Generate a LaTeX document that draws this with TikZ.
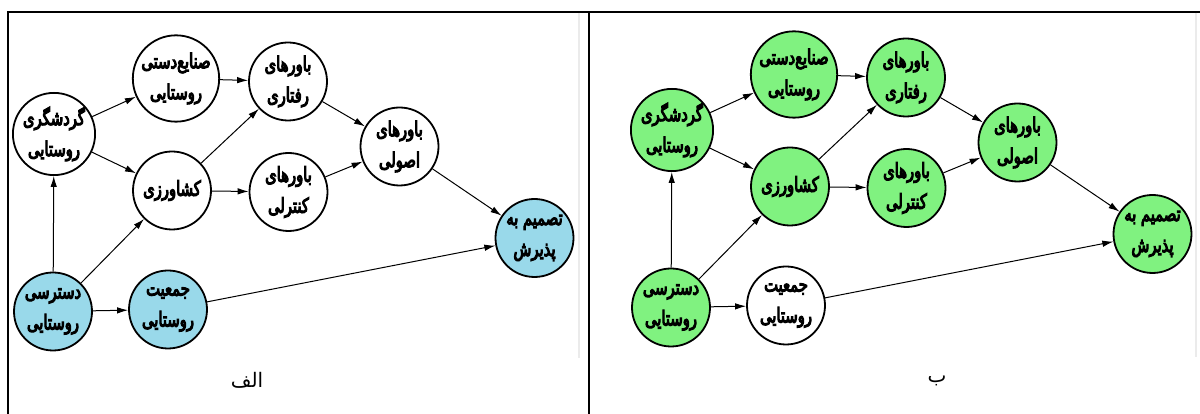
\documentclass[tikz,border=0pt]{standalone}
\usepackage{fontspec}
\newfontfamily\farsi[Script=Arabic,FakeBold=5,FakeStretch=0.72]{DejaVu Sans}
\newfontfamily\farsilb[Script=Arabic]{DejaVu Sans}
\TeXXeTstate=1
\usepackage{xcolor}
\usepackage{tikz}
\usetikzlibrary{arrows.meta}
\definecolor{nodeblue}{RGB}{153,217,234}
\definecolor{nodegreen}{RGB}{128,242,128}
\newcommand{\faline}[1]{\beginR #1\endR}

\begin{document}
\begin{tikzpicture}[x=1pt,y=1pt]
\tikzset{
  nb/.style={circle,draw=black,line width=1.8pt,fill=white,minimum size=78pt,inner sep=0pt,align=center,font=\farsi\fontsize{20.5}{31}\selectfont},
  ar/.style={-{Latex[length=11pt,width=6.5pt]},line width=1pt,draw=black},
  frm/.style={line width=2pt,draw=black},
  lb/.style={font=\farsilb\fontsize{20}{20}\selectfont}
}
\useasboundingbox (0,0) rectangle (1200,414);
% frames
\draw[frm] (8,0) -- (8,402) -- (1200,402);
\draw[frm] (589,0) -- (589,402);
\draw[line width=1.5pt,draw=black!8] (579,401) -- (579,56);
\draw[line width=1.5pt,draw=black!8] (1196,401) -- (1196,57);
% panel a
\node[nb] (tourA) at (54,280) {\faline{گردشگری}\\\faline{روستایی}};
\node[nb] (craftA) at (176,335.5) {\faline{صنایع‌دستی}\\\faline{روستایی}};
\node[nb] (behavA) at (288,332.5) {\faline{باورهای}\\\faline{رفتاری}};
\node[nb] (agriA) at (172,223.5) {\faline{کشاورزی}};
\node[nb] (ctrlA) at (288.5,222) {\faline{باورهای}\\\faline{کنترلی}};
\node[nb] (normA) at (399.5,267.5) {\faline{باورهای}\\\faline{اصولی}};
\node[nb,fill=nodeblue] (adoptA) at (534.5,176) {\faline{تصمیم به}\\\faline{پذیرش}};
\node[nb,fill=nodeblue] (accessA) at (53,102.5) {\faline{دسترسی}\\\faline{روستایی}};
\node[nb,fill=nodeblue] (popA) at (168,104.5) {\faline{جمعیت}\\\faline{روستایی}};
\node[lb] (capA) at (247,34) {\faline{الف}};
% panel b
\node[nb,fill=nodegreen] (tourB) at (672,284) {\faline{گردشگری}\\\faline{روستایی}};
\node[nb,fill=nodegreen] (craftB) at (794,339.5) {\faline{صنایع‌دستی}\\\faline{روستایی}};
\node[nb,fill=nodegreen] (behavB) at (906,336.5) {\faline{باورهای}\\\faline{رفتاری}};
\node[nb,fill=nodegreen] (agriB) at (790,227.5) {\faline{کشاورزی}};
\node[nb,fill=nodegreen] (ctrlB) at (906.5,226) {\faline{باورهای}\\\faline{کنترلی}};
\node[nb,fill=nodegreen] (normB) at (1017.5,271.5) {\faline{باورهای}\\\faline{اصولی}};
\node[nb,fill=nodegreen] (adoptB) at (1152.5,180) {\faline{تصمیم به}\\\faline{پذیرش}};
\node[nb,fill=nodegreen] (accessB) at (671,106.5) {\faline{دسترسی}\\\faline{روستایی}};
\node[nb] (popB) at (786,108.5) {\faline{جمعیت}\\\faline{روستایی}};
\node[lb] (capB) at (937,33) {\faline{ب}};
% edges
\foreach \p in {A,B}{
  \foreach \a/\b in {tour/craft,tour/agri,craft/behav,agri/behav,agri/ctrl,behav/norm,ctrl/norm,norm/adopt,access/tour,access/agri,access/pop,pop/adopt}{\draw[ar] (\a\p)--(\b\p);}
}
\end{tikzpicture}
\end{document}
